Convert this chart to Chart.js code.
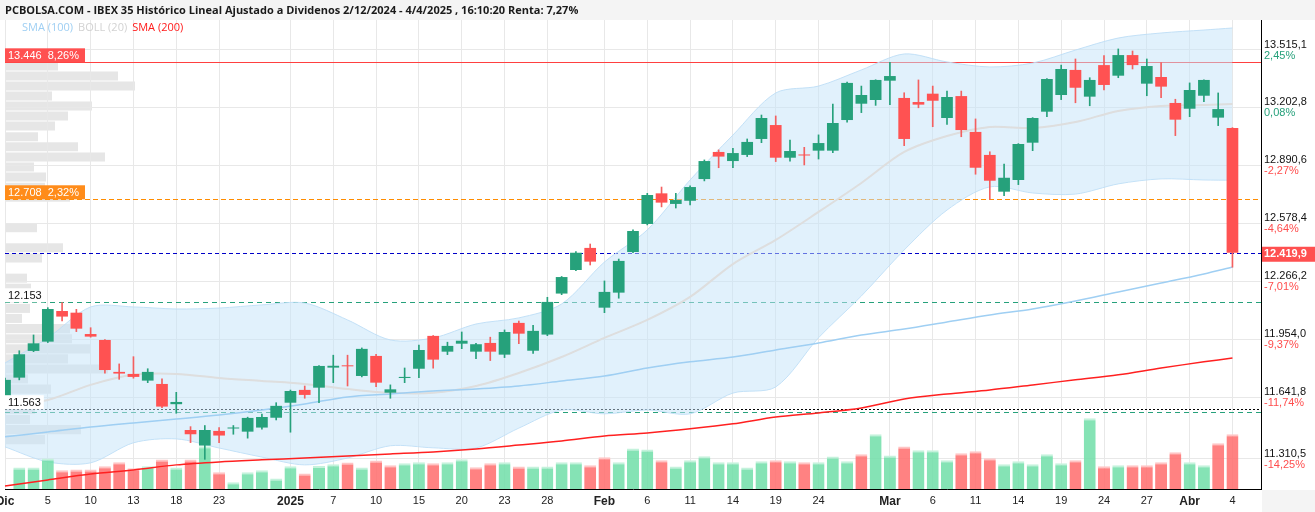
<!DOCTYPE html>
<html>
<head>
<meta charset="utf-8">
<script src="https://cdn.jsdelivr.net/npm/chart.js@4.4.1/dist/chart.umd.min.js"></script>
<style>
html,body{margin:0;padding:0;background:#fff;}
#wrap{position:relative;width:1315px;height:512px;overflow:hidden;}
#wrap canvas{position:absolute;left:0;top:0;}
</style>
</head>
<body>
<div id="wrap">
<canvas id="prof" width="1315" height="512"></canvas>
<canvas id="main" width="1315" height="512"></canvas>
</div>
<script>
// sesiones (dd/m)
var dates = ['2/12','3/12','4/12','5/12','6/12','9/12','10/12','11/12','12/12','13/12','16/12','17/12','18/12','19/12','20/12','23/12','24/12','27/12','30/12','31/12',
  '2/1','3/1','6/1','7/1','8/1','9/1','10/1','13/1','14/1','15/1','16/1','17/1','20/1','21/1','22/1','23/1','24/1','27/1','28/1','29/1','30/1','31/1',
  '3/2','4/2','5/2','6/2','7/2','10/2','11/2','12/2','13/2','14/2','17/2','18/2','19/2','20/2','21/2','24/2','25/2','26/2','27/2','28/2',
  '3/3','4/3','5/3','6/3','7/3','10/3','11/3','12/3','13/3','14/3','17/3','18/3','19/3','20/3','21/3','24/3','25/3','26/3','27/3','28/3','31/3',
  '1/4','2/4','3/4','4/4'];
var emptySlots = ['7/4','8/4'];

var open = [11639,11747,11891,11941,12106,12097,11982,11950,11778,11767,11731,11713,11604,11465,11381,11460,11473,11456,11478,11531,
  11612,11681,11693,11801,11812,11756,11864,11666,11745,11795,11972,11887,11930,11887,11934,11871,12042,11892,11979,12200,12327,12446,
  12124,12205,12424,12575,12740,12683,12700,12817,12963,12914,12947,13033,13108,12932,12948,12970,12970,13135,13223,13243,
  13347,13254,13232,13277,13146,13264,13071,12947,12749,12812,13013,13180,13270,13405,13261,13431,13374,13485,13331,13367,13227,
  13196,13266,13148,13092];
var high = [11745,11892,11977,12124,12151,12115,12016,11952,11821,11860,11795,11740,11668,11483,11489,11478,11489,11534,11551,11612,
  11680,11702,11812,11868,11868,11907,11873,11708,11799,11922,11974,11938,11993,11932,11965,12004,12052,12029,12180,12292,12426,12467,
  12268,12386,12543,12740,12774,12740,12780,12920,12974,12983,13033,13162,13157,13027,12988,13055,13221,13340,13318,13352,
  13446,13282,13351,13318,13291,13291,13141,12964,12898,13008,13148,13358,13431,13464,13363,13482,13518,13507,13464,13444,13247,
  13335,13352,13281,13094];
var low = [11630,11735,11887,11936,12052,11995,11965,11771,11738,11744,11720,11585,11555,11397,11307,11397,11442,11421,11469,11519,
  11453,11636,11612,11720,11702,11751,11698,11636,11720,11747,11798,11871,11903,11849,11839,11855,11930,11878,11973,12194,12323,12354,
  12097,12175,12420,12570,12667,12661,12677,12807,12878,12878,12938,13013,12911,12914,12893,12925,12959,13124,13175,13214,
  13218,12997,13201,13099,13112,13045,12843,12708,12727,12787,12970,13153,13245,13228,13212,13297,13363,13410,13266,13255,13051,
  13153,13234,13105,12342];
var close = [11735,11873,11932,12117,12076,12011,11968,11788,11769,11751,11778,11591,11616,11442,11465,11435,11477,11530,11535,11595,
  11675,11654,11810,11811,11808,11902,11720,11684,11751,11896,11844,11918,11946,11927,11887,11993,11984,11999,12155,12289,12420,12372,
  12209,12376,12537,12731,12690,12704,12774,12914,12938,12957,13017,13146,12932,12968,12944,13011,13119,13335,13270,13351,
  13372,13033,13218,13239,13259,13081,12878,12808,12824,13006,13146,13356,13410,13309,13351,13324,13485,13431,13426,13315,13137,
  13297,13351,13194,12419.9];
// volumen (millones aprox.)
var volume = [null,214,214,304,187,194,194,227,267,207,227,294,214,294,427,167,67,167,187,104,
  227,154,230,247,264,214,284,237,257,267,257,267,297,217,257,267,224,224,224,267,267,237,
  317,267,404,394,287,224,287,327,267,267,214,277,287,277,267,267,324,277,347,547,
  334,424,387,387,287,357,377,307,247,277,247,347,257,287,707,227,237,237,237,267,367,
  267,237,457,547];

// indicadores
var indDates = ['2/12','5/12','10/12','13/12','18/12','23/12','30/12','3/1','8/1','13/1','16/1','21/1','24/1','29/1','3/2','6/2','11/2','14/2','19/2','24/2','27/2','4/3','7/3','12/3','17/3','20/3','25/3','28/3','2/4','4/4'];
var bollUp = [11826,11961,12128,12128,12117,12122,12139,12149,12058,11950,11961,12036,12069,12144,12370,12543,12812,13054,13281,13318,13405,13491,13448,13421,13442,13512,13577,13604,13620,13631];
var bollMid = [11600,11627,11708,11762,11767,11745,11729,11713,11686,11665,11665,11702,11772,11858,11961,12058,12182,12359,12489,12640,12796,12963,13049,13098,13092,13124,13184,13211,13216,13221];
var bollLow = [11374,11293,11288,11396,11417,11368,11319,11277,11314,11380,11369,11368,11475,11572,11552,11573,11552,11664,11697,11962,12187,12435,12650,12775,12742,12736,12791,12818,12812,12811];
var sma100 = [11428,11454,11481,11503,11524,11546,11573,11605,11643,11659,11675,11686,11702,11729,11756,11799,11832,11858,11896,11934,11977,12009,12047,12085,12117,12160,12209,12257,12306,12343];
var sma200 = [11163,11196,11228,11250,11277,11293,11304,11314,11325,11336,11347,11363,11384,11406,11433,11449,11471,11498,11535,11557,11584,11632,11659,11681,11708,11735,11762,11799,11832,11853];

// perfil de volumen por precio
var profPrice = [13426,13372,13318,13264,13211,13157,13103,13045,12991,12936,12882,12828,12773,12719,12555,12447,12392,12283,12229,12175,12120,12066,12011,11957,11902,11848,11794,11740,11685,11631,11576,11522,11467,11413];
var profVol = [53,113,130,47,87,63,50,33,73,100,29,41,40,65,32,58,37,22,26,20,25,17,65,67,86,63,103,23,46,7,30,25,76,40];

var tickDates = ['2/12','5/12','10/12','13/12','18/12','23/12','2/1','7/1','10/1','15/1','20/1','23/1','28/1','3/2','6/2','11/2','14/2','19/2','24/2','3/3','6/3','11/3','14/3','19/3','24/3','27/3','1/4','4/4'];
var tickText = ['Dic','5','10','13','18','23','2025','7','10','15','20','23','28','Feb','6','11','14','19','24','Mar','6','11','14','19','24','27','Abr','4'];
var boldTicks = ['Dic','2025','Feb','Mar','Abr'];

var yTicks = [13515.1,13202.8,12890.6,12578.4,12266.2,11954.0,11641.8,11310.5];
var yTickText = ['13.515,1','13.202,8','12.890,6','12.578,4','12.266,2','11.954,0','11.641,8','11.310,5'];
var yPctText = ['2,45%','0,08%','-2,27%','-4,64%','-7,01%','-9,37%','-11,74%','-14,25%'];

var lastPrice = 12419.9, lastText = '12.419,9';
var maxLevel = 13446, maxText = '13.446  8,26%';
var minLevel = 12708, minText = '12.708  2,32%';
var supA = 12153, supAText = '12.153';
var supB = 11563, supBText = '11.563';
var dotLevel = 11577;

var title = 'PCBOLSA.COM - IBEX 35 Histórico Lineal Ajustado a Dividenos 2/12/2024 - 4/4/2025 , 16:10:20 Renta: 7,27%';

var Y_MIN = 11147, Y_MAX = 13674;
var GREEN = '#26a17b', RED = '#ff5252';
var FONT = "'Liberation Sans', Arial, sans-serif";

var labels = dates.concat(emptySlots);
function pts(arr){ return indDates.map(function(d,i){ return {x:d, y:arr[i]}; }); }

var bodies = dates.map(function(d,i){ return [open[i], close[i]]; });
var wickUp = dates.map(function(d,i){ return close[i] >= open[i] ? [low[i], high[i]] : null; });
var wickDn = dates.map(function(d,i){ return close[i] < open[i] ? [low[i], high[i]] : null; });
var volUp = close.map(function(c,i){ return i === 0 || c >= close[i-1]; });
var volCol = volUp.map(function(u){ return u ? 'rgba(112,222,168,0.85)' : 'rgba(255,108,108,0.85)'; });
var volTop = volUp.map(function(u){ return u ? 'rgba(196,242,220,1)' : 'rgba(255,196,196,1)'; });

function hline(c, a, y, color, dash, w){
  c.save();
  c.beginPath();
  c.strokeStyle = color; c.lineWidth = w || 1; c.setLineDash(dash || []);
  c.moveTo(a.left, Math.round(y)+0.5); c.lineTo(a.right, Math.round(y)+0.5);
  c.stroke();
  c.restore();
}
function tag(c, x, yBottom, text, bg, fg, w){
  c.save();
  c.font = '11px ' + FONT;
  var tw = w || c.measureText(text).width + 6;
  c.fillStyle = bg;
  c.fillRect(x, yBottom - 14, tw, 14);
  c.fillStyle = fg; c.textBaseline = 'middle'; c.textAlign = 'left';
  c.fillText(text, x + 3, yBottom - 6.5);
  c.restore();
}

var deco = {
  id: 'deco',
  beforeDraw: function(chart){
    var c = chart.ctx, a = chart.chartArea;
    c.save();
    c.fillStyle = '#f4f4f4';
    c.fillRect(0, 0, chart.width, a.top);
    c.fillRect(a.right + 1, a.bottom + 1, chart.width - a.right, chart.height - a.bottom);
    c.restore();
  },
  beforeDatasetsDraw: function(chart){
    var c = chart.ctx, a = chart.chartArea, y = chart.scales.y;
    hline(c, a, y.getPixelForValue(maxLevel), '#ff4040', []);
    hline(c, a, y.getPixelForValue(minLevel), '#ff8c00', [5,3]);
    hline(c, a, y.getPixelForValue(lastPrice), '#0000c8', [4,3]);
    hline(c, a, y.getPixelForValue(supA), GREEN, [5,4]);
    hline(c, a, y.getPixelForValue(dotLevel), '#000', [2,2]);
    hline(c, a, y.getPixelForValue(supB), GREEN, [5,4]);
  },
  afterDraw: function(chart){
    var c = chart.ctx, a = chart.chartArea, y = chart.scales.y;
    c.save();
    // titulo
    c.font = "bold 11px 'Open Sans', sans-serif";
    c.fillStyle = '#1a1a1a'; c.textBaseline = 'middle'; c.textAlign = 'left';
    c.fillText(title, 5, 11);
    // leyenda
    c.font = "11px 'Open Sans', sans-serif";
    var lx = 22;
    [['SMA (100)','#9fcff3'],['BOLL (20)','#d2d2d2'],['SMA (200)','#ff1a1a']].forEach(function(it){
      c.fillStyle = it[1]; c.fillText(it[0], lx, 28);
      lx += c.measureText(it[0]).width + 5;
    });
    // eje derecho
    c.font = '11px ' + FONT;
    yTicks.forEach(function(v,i){
      var py = y.getPixelForValue(v);
      c.fillStyle = '#111';
      c.fillText(yTickText[i], a.right + 3, py - 5);
      c.fillStyle = yPctText[i].charAt(0) === '-' ? '#ff4d4d' : GREEN;
      c.fillText(yPctText[i], a.right + 3, py + 6);
    });
    // ultimo precio
    var lp = y.getPixelForValue(lastPrice);
    c.fillStyle = '#ff5050';
    c.fillRect(a.right + 1, lp - 6, chart.width - a.right, 15);
    c.font = 'bold 11px ' + FONT;
    c.fillStyle = '#fff';
    c.fillText(lastText, a.right + 3, lp + 1.5);
    c.restore();
    // etiquetas izquierdas
    tag(c, a.left, y.getPixelForValue(maxLevel), maxText, '#ff5050', '#fff', 80);
    tag(c, a.left, y.getPixelForValue(minLevel), minText, '#ff8c1a', '#fff', 80);
    tag(c, a.left, y.getPixelForValue(supA), supAText, '#fff', '#111');
    tag(c, a.left, y.getPixelForValue(dotLevel), supBText, '#fff', '#111');
  }
};

new Chart(document.getElementById('prof'), {
  type: 'bar',
  data: {
    datasets: [{
      data: profPrice.map(function(p,i){ return {x: profVol[i], y: p}; }),
      backgroundColor: 'rgba(214,214,214,0.6)',
      barPercentage: 0.92, categoryPercentage: 1
    }]
  },
  options: {
    indexAxis: 'y', responsive: false, animation: false,
    layout: { padding: { left: 5, top: 20, right: 54, bottom: 23 }, autoPadding: false },
    scales: {
      x: { type: 'linear', display: false, min: 0, max: 1256 },
      y: { type: 'linear', display: false, offset: false, min: Y_MIN, max: Y_MAX }
    },
    plugins: { legend: { display: false }, tooltip: { enabled: false } }
  }
});

new Chart(document.getElementById('main'), {
  type: 'bar',
  data: {
    labels: labels,
    datasets: [
      { type: 'line', data: pts(bollUp), borderColor: 'rgba(190,222,246,0.9)', borderWidth: 1, pointRadius: 0,
        fill: '+1', backgroundColor: 'rgba(196,228,250,0.5)', tension: 0.3, order: 9 },
      { type: 'line', data: pts(bollLow), borderColor: 'rgba(190,222,246,0.9)', borderWidth: 1, pointRadius: 0,
        fill: false, tension: 0.3, order: 9 },
      { type: 'line', data: pts(bollMid), borderColor: '#dedede', borderWidth: 2, pointRadius: 0, fill: false, tension: 0.3, order: 8 },
      { data: volume, yAxisID: 'v', backgroundColor: volCol, borderColor: volTop,
        borderWidth: { top: 2, left: 0, right: 0, bottom: 0 }, borderSkipped: 'bottom',
        grouped: false, barPercentage: 0.84, categoryPercentage: 1, order: 7 },
      { type: 'line', data: pts(sma100), borderColor: '#9fcff3', borderWidth: 1.5, pointRadius: 0, fill: false, tension: 0.3, order: 5 },
      { type: 'line', data: pts(sma200), borderColor: '#ff2020', borderWidth: 1.5, pointRadius: 0, fill: false, tension: 0.3, order: 5 },
      { data: wickUp, backgroundColor: GREEN, grouped: false, barThickness: 1, order: 3 },
      { data: wickDn, backgroundColor: '#f36060', grouped: false, barThickness: 1, order: 3 },
      { data: bodies, grouped: false, barPercentage: 0.82, categoryPercentage: 1, minBarLength: 1, order: 1,
        backgroundColor: close.map(function(c,i){ return c >= open[i] ? GREEN : RED; }) }
    ]
  },
  options: {
    responsive: false, animation: false,
    layout: { padding: { left: 5, top: 20, right: 0, bottom: 0 }, autoPadding: false },
    scales: {
      x: {
        type: 'category', offset: false,
        grid: { color: '#e8e8e8', drawTicks: false, offset: false },
        border: { color: '#000', width: 1 },
        afterBuildTicks: function(s){ s.ticks = tickDates.map(function(d){ return { value: labels.indexOf(d) }; }); },
        afterFit: function(s){ s.height = 23; s.paddingLeft = 0; s.paddingRight = 0; },
        ticks: {
          autoSkip: false, maxRotation: 0, padding: 5, color: '#222',
          callback: function(v){ return tickText[tickDates.indexOf(labels[v])]; },
          font: function(ctx){
            var l = ctx.tick ? ctx.tick.label : '';
            return boldTicks.indexOf(l) >= 0 ? { family: FONT, size: 12, weight: 'bold' } : { family: FONT, size: 11 };
          }
        }
      },
      y: {
        type: 'linear', position: 'right', min: Y_MIN, max: Y_MAX,
        grid: { color: '#e8e8e8', drawTicks: false },
        border: { color: '#000', width: 1 },
        ticks: { display: false },
        afterBuildTicks: function(s){ s.ticks = yTicks.map(function(v){ return { value: v }; }); },
        afterFit: function(s){ s.width = 54; s.paddingTop = 0; s.paddingBottom = 0; }
      },
      v: { type: 'linear', display: false, min: 0, max: 4690, grid: { display: false } }
    },
    plugins: { legend: { display: false }, tooltip: { enabled: false } }
  },
  plugins: [deco]
});
</script>
</body>
</html>
